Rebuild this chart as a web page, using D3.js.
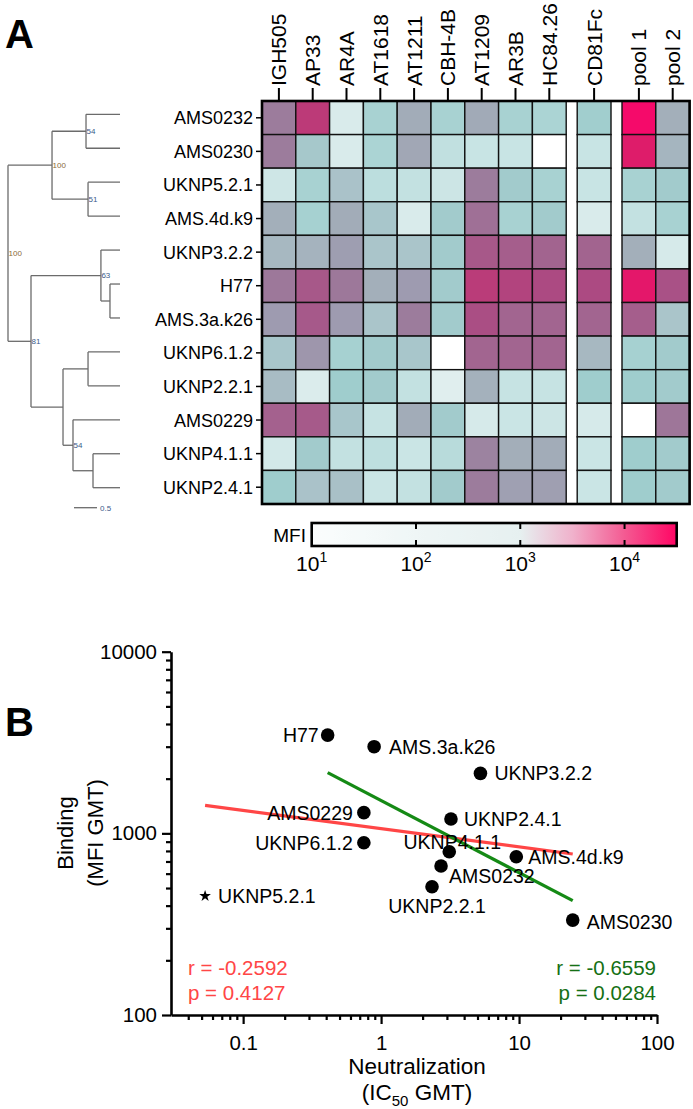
<!DOCTYPE html>
<html><head><meta charset="utf-8">
<script src="https://cdn.jsdelivr.net/npm/d3@7"></script>
<style>
body{margin:0;background:#fff;}
svg{display:block;font-family:"Liberation Sans",Arial,Helvetica,sans-serif;}
</style></head><body>
<svg id="c" width="693" height="1109"></svg>
<script>
// ---------- DATA ----------
const columns = ["IGH505","AP33","AR4A","AT1618","AT1211","CBH-4B","AT1209","AR3B","HC84.26","CD81Fc","pool 1","pool 2"];
const columnGroup = [0,0,0,0,0,0,0,0,0,1,2,2];
const strains = ["AMS0232","AMS0230","UKNP5.2.1","AMS.4d.k9","UKNP3.2.2","H77","AMS.3a.k26","UKNP6.1.2","UKNP2.2.1","AMS0229","UKNP4.1.1","UKNP2.4.1"];
// MFI per strain (rows) x antibody (columns); null = no value (white)
const mfiRows = [
  [1600, 8000,  40, 160, 560, 160,  600, 160, 150, 190, 25000, 520],
  [1600,  260,  40, 150, 650,  90,   75,  75, null, 75, 16000, 450],
  [  60,  160, 330, 100,  85,  65, 1600, 220, 160,  75,  160, 220],
  [ 520,  170, 560, 280,  40, 220, 2000, 160, 220,  40,   85, 160],
  [ 420,  470, 850, 300, 300, 220, 3500, 3000, 2600, 2600, 520, 45],
  [1700, 3500, 1700, 520, 900, 220, 7500, 6000, 5000, 5000, 18000, 4200],
  [ 900, 3400, 900, 300, 1600, 220, 4500, 2500, 2500, 2500, 3000, 300],
  [ 280, 1000, 170, 220, 280, null, 2500, 2500, 2500, 420, 170, 220],
  [ 380,   38, 200, 220,  85,  32,  500,  80,  80, 200, 200, 220],
  [2800, 3300, 280,  80, 560, 220,   45,  70,  65,  45, null, 1800],
  [  50,  220,  85,  95,  70, 110, 1400, 540, 560,  70, 200, 220],
  [ 200,  330, 350,  70,  85, 220, 1600, 800, 820,  70, 200, 220]
];
// Tree: [id, parent, distance from root, bootstrap label]
const treeNodes = [
  ["n0", "", 0, "100"],
  ["nA", "n0", 0.957, "100"],
  ["nA1", "nA", 1.696, "54"],
  ["nA2", "nA", 1.74, "51"],
  ["nB", "n0", 0.5, "81"],
  ["nB1", "nB", 2.02, "63"],
  ["nB1a", "nB1", 2.217, ""],
  ["nB2", "nB", 1.196, ""],
  ["nB2a", "nB2", 1.74, ""],
  ["nB2b", "nB2", 1.413, "54"],
  ["nB2c", "nB2b", 1.848, ""],
  ["AMS0232", "nA1", 2.435, ""],
  ["AMS0230", "nA1", 2.435, ""],
  ["UKNP5.2.1", "nA2", 2.435, ""],
  ["AMS.4d.k9", "nA2", 2.435, ""],
  ["UKNP3.2.2", "nB1", 2.435, ""],
  ["H77", "nB1a", 2.435, ""],
  ["AMS.3a.k26", "nB1a", 2.435, ""],
  ["UKNP6.1.2", "nB2a", 2.435, ""],
  ["UKNP2.2.1", "nB2a", 2.435, ""],
  ["AMS0229", "nB2b", 2.435, ""],
  ["UKNP4.1.1", "nB2c", 2.435, ""],
  ["UKNP2.4.1", "nB2c", 2.435, ""]
];
const treeScaleBar = 0.5;
const colorbarTicks = [10, 100, 1000, 10000];

// Panel B
const pointNames = ["H77","AMS.3a.k26","UKNP3.2.2","AMS0229","UKNP6.1.2","UKNP2.4.1","UKNP4.1.1","AMS0232","UKNP2.2.1","AMS.4d.k9","AMS0230"];
const neutGMT = [0.41, 0.89, 5.25, 0.75, 0.75, 3.21, 3.12, 2.72, 2.34, 9.55, 24.5];
const bindGMT = [3475, 3000, 2140, 1300, 887, 1199, 792, 661, 508, 743, 333];
const outlierNames = ["UKNP5.2.1"];
const outlierNeut = [0.053];
const outlierBind = [452];
const fitAllX = [0.053, 24.5];
const fitAllY = [1426, 770];
const fitSubX = [0.41, 24.5];
const fitSubY = [2157, 426];
const statsAll = ["r = -0.2592", "p = 0.4127"];
const statsSub = ["r = -0.6559", "p = 0.0284"];
const yMajor = [100, 1000, 10000];
const xMajor = [0.1, 1, 10, 100];

// ---------- LAYOUT ----------
const svg = d3.select("#c");
const FONT = "'Liberation Sans', Arial, Helvetica, sans-serif";

svg.append("text").attr("x", 5).attr("y", 48).attr("font-size", 40).attr("font-weight", "bold").text("A");
svg.append("text").attr("x", 5).attr("y", 736).attr("font-size", 40).attr("font-weight", "bold").text("B");

// ---- Heatmap ----
const HX0 = 262, HY0 = 101, HY1 = 504, CW = 33.8, GAP = 11;
const rowY = d3.scaleBand().domain(strains).range([HY0, HY1]);
const colBase = d3.scaleLinear().domain([0, columns.length]).range([HX0, HX0 + columns.length * CW]);
const colX = i => colBase(i) + columnGroup[i] * GAP;
const HX1 = colX(columns.length - 1) + CW;

const heatColor = d3.scaleLinear()
  .domain([1.5, 1.9, 2.3, 2.5, 2.75, 2.95, 3.2, 3.4, 3.7, 3.9, 4.2, 4.4])
  .range(["#e0eeee","#c6e3e3","#9fcdcd","#abc4ca","#a2acb8","#9e9cb0","#9c7c9c","#a26590","#ac4a82","#bc3a78","#de1c6a","#f50a6a"])
  .clamp(true);

const cells = [];
mfiRows.forEach((row, r) => row.forEach((v, c) => cells.push({r, c, v})));
const hm = svg.append("g");
hm.selectAll("rect.cell").data(cells).join("rect")
  .attr("x", d => colX(d.c))
  .attr("y", d => rowY(strains[d.r]))
  .attr("width", CW)
  .attr("height", rowY.bandwidth())
  .attr("fill", d => d.v == null ? "#ffffff" : heatColor(Math.log10(d.v)))
  .attr("stroke", "#111")
  .attr("stroke-width", 1.4);
hm.append("rect").attr("x", HX0).attr("y", HY0).attr("width", HX1 - HX0).attr("height", HY1 - HY0)
  .attr("fill", "none").attr("stroke", "#000").attr("stroke-width", 2.6);

// column ticks + labels
columns.forEach((c, i) => {
  const cx = colX(i) + CW / 2;
  hm.append("line").attr("x1", cx).attr("x2", cx).attr("y1", HY0 - 13).attr("y2", HY0)
    .attr("stroke", "#000").attr("stroke-width", 2);
  hm.append("text").attr("transform", `translate(${cx},${HY0 - 15}) rotate(-90)`)
    .attr("dy", "0.36em").attr("font-size", 21).attr("text-anchor", "start").text(c);
});
// row ticks + labels
strains.forEach(s => {
  const cy = rowY(s) + rowY.bandwidth() / 2;
  hm.append("line").attr("x1", HX0 - 6).attr("x2", HX0).attr("y1", cy).attr("y2", cy)
    .attr("stroke", "#000").attr("stroke-width", 1.5);
  hm.append("text").attr("x", HX0 - 9).attr("y", cy).attr("dy", "0.36em")
    .attr("text-anchor", "end").attr("font-size", 18).text(s);
});

// ---- Tree ----
const root = d3.stratify().id(d => d[0]).parentId(d => d[1] || null)(treeNodes);
const treeX = d3.scaleLinear().domain([0, 1]).range([8, 54]);
const leafY = d3.scalePoint().domain(strains).range([114.3, 487.7]);
root.eachAfter(n => {
  n.tx = treeX(n.data[2]);
  if (!n.children) n.ty = leafY(n.id);
  else n.ty = (n.children[0].ty + n.children[n.children.length - 1].ty) / 2;
});
const tg = svg.append("g").attr("stroke", "#6b6b6b").attr("stroke-width", 1.3).attr("fill", "none");
root.descendants().forEach(n => {
  if (n.children) {
    tg.append("line").attr("x1", n.tx).attr("x2", n.tx)
      .attr("y1", n.children[0].ty).attr("y2", n.children[n.children.length - 1].ty);
    n.children.forEach(ch => {
      tg.append("line").attr("x1", n.tx).attr("x2", ch.tx).attr("y1", ch.ty).attr("y2", ch.ty);
    });
  }
});
root.descendants().filter(n => n.data[3]).forEach(n => {
  svg.append("text").attr("x", n.tx + 0.5).attr("y", n.ty).attr("dy", "0.35em")
    .attr("font-size", 8)
    .attr("fill", n.data[3] === "100" ? "#8a6a3a" : "#3b5b8a")
    .text(n.data[3]);
});
// scale bar
tg.append("line").attr("x1", treeX(0) + 66).attr("x2", treeX(treeScaleBar) + 66).attr("y1", 507.7).attr("y2", 507.7);
svg.append("text").attr("x", treeX(treeScaleBar) + 69).attr("y", 507.7).attr("dy", "0.35em")
  .attr("font-size", 8).attr("fill", "#3b5b8a").text(String(treeScaleBar));

// ---- Colorbar ----
const CBX0 = 311.7, CBX1 = 676.7, CBY0 = 523, CBY1 = 546;
const cbScale = d3.scaleLog().domain([10, Math.pow(10, 4.5)]).range([CBX0, CBX1]);
const cbColor = d3.scaleLinear().domain([1, 2, 3, 3.5, 4, 4.5])
  .range(["#fbfdfd", "#eff6f6", "#e6f0f0", "#f0b2cc", "#f45a92", "#ff0564"]);
const grad = svg.append("defs").append("linearGradient").attr("id", "cbg")
  .attr("x1", "0%").attr("x2", "100%").attr("y1", "0%").attr("y2", "0%");
d3.range(1, 4.51, 0.1).forEach(t => {
  grad.append("stop").attr("offset", ((t - 1) / 3.5 * 100) + "%").attr("stop-color", cbColor(t));
});
svg.append("rect").attr("x", CBX0).attr("y", CBY0).attr("width", CBX1 - CBX0).attr("height", CBY1 - CBY0)
  .attr("fill", "url(#cbg)").attr("stroke", "#000").attr("stroke-width", 2.6);
colorbarTicks.forEach((v, i) => {
  const x = cbScale(v);
  if (i > 0) {
    svg.append("line").attr("x1", x).attr("x2", x).attr("y1", CBY0).attr("y2", CBY0 + 6).attr("stroke", "#000").attr("stroke-width", 2);
    svg.append("line").attr("x1", x).attr("x2", x).attr("y1", CBY1 - 6).attr("y2", CBY1).attr("stroke", "#000").attr("stroke-width", 2);
  }
  const t = svg.append("text").attr("x", x).attr("y", 571).attr("text-anchor", "middle").attr("font-size", 21);
  t.append("tspan").text("10");
  t.append("tspan").attr("font-size", 14).attr("dy", -9).text(String(Math.round(Math.log10(v))));
});
svg.append("text").attr("x", 306).attr("y", 535).attr("dy", "0.36em").attr("text-anchor", "end")
  .attr("font-size", 19).text("MFI");

// ---- Scatter (Panel B) ----
const xS = d3.scaleLog().domain([0.03, 100]).range([171, 657]);
const yS = d3.scaleLog().domain([100, 10000]).range([1015, 651.7]);
const isMajor = d => Math.abs(Math.log10(d) - Math.round(Math.log10(d))) < 1e-9;

const yTicks = [];
[100, 1000].forEach(b => d3.range(1, 10).forEach(k => yTicks.push(b * k)));
yTicks.push(10000);
const xTicks = [];
[0.01, 0.1, 1, 10].forEach(b => d3.range(1, 10).forEach(k => { const v = +(b * k).toPrecision(3); if (v >= 0.04) xTicks.push(v); }));
xTicks.push(100);

const yAx = svg.append("g").attr("transform", `translate(${xS.range()[0]},0)`)
  .call(d3.axisLeft(yS).tickValues(yTicks).tickSize(9).tickSizeOuter(0).tickPadding(5)
    .tickFormat(d => yMajor.includes(d) ? String(d) : ""));
yAx.selectAll(".tick line").attr("x2", d => isMajor(d) ? -9 : -5);
const xAx = svg.append("g").attr("transform", `translate(0,${yS.range()[0]})`)
  .call(d3.axisBottom(xS).tickValues(xTicks).tickSize(9).tickSizeOuter(0).tickPadding(11)
    .tickFormat(d => xMajor.some(m => Math.abs(m - d) < 1e-9) ? String(d) : ""));
xAx.selectAll(".tick line").attr("y2", d => isMajor(d) ? 9 : 5);
[yAx, xAx].forEach(a => {
  a.select(".domain").attr("stroke", "#000").attr("stroke-width", 2.6);
  a.selectAll(".tick line").attr("stroke", "#000").attr("stroke-width", 2.2);
  a.selectAll(".tick text").attr("font-size", 20.5).attr("font-family", FONT).attr("fill", "#000");
});

// axis titles
svg.append("text").attr("transform", "translate(65,833) rotate(-90)").attr("dy", "0.36em")
  .attr("text-anchor", "middle").attr("font-size", 22).text("Binding");
svg.append("text").attr("transform", "translate(95,833) rotate(-90)").attr("dy", "0.36em")
  .attr("text-anchor", "middle").attr("font-size", 22).text("(MFI GMT)");
svg.append("text").attr("x", 417).attr("y", 1074).attr("text-anchor", "middle").attr("font-size", 22.5).text("Neutralization");
const xt2 = svg.append("text").attr("x", 417).attr("y", 1100).attr("text-anchor", "middle").attr("font-size", 22.5);
xt2.append("tspan").text("(IC");
xt2.append("tspan").attr("font-size", 15).attr("dy", 6).text("50");
xt2.append("tspan").attr("dy", -6).text(" GMT)");

// fit lines
const line = d3.line().x(d => xS(d[0])).y(d => yS(d[1]));
svg.append("path").datum(fitAllX.map((x, i) => [x, fitAllY[i]])).attr("d", line)
  .attr("stroke", "#ff4646").attr("stroke-width", 3.2).attr("fill", "none");
svg.append("path").datum(fitSubX.map((x, i) => [x, fitSubY[i]])).attr("d", line)
  .attr("stroke", "#158a15").attr("stroke-width", 3.2).attr("fill", "none");

// points
const pts = pointNames.map((n, i) => ({n, x: neutGMT[i], y: bindGMT[i]}));
svg.append("g").selectAll("circle").data(pts).join("circle")
  .attr("cx", d => xS(d.x)).attr("cy", d => yS(d.y)).attr("r", 6.8).attr("fill", "#000");
const outl = outlierNames.map((n, i) => ({n, x: outlierNeut[i], y: outlierBind[i]}));
svg.append("g").selectAll("path").data(outl).join("path")
  .attr("transform", d => `translate(${xS(d.x)},${yS(d.y)})`)
  .attr("d", d3.symbol().type(d3.symbolStar).size(42)).attr("fill", "#000");

// label placement (layout only)
const labelPlace = {
  "H77": ["end", -9, 0], "AMS.3a.k26": ["start", 15, 0], "UKNP3.2.2": ["start", 14, 0],
  "AMS0229": ["end", -11, 0], "UKNP6.1.2": ["end", -11, 0], "UKNP2.4.1": ["start", 13, 0],
  "UKNP4.1.1": ["middle", 3, -10], "AMS0232": ["start", 8, 10], "UKNP2.2.1": ["middle", 5, 19],
  "AMS.4d.k9": ["start", 12, 0], "AMS0230": ["start", 14, 2], "UKNP5.2.1": ["start", 13, 0]
};
svg.append("g").selectAll("text").data(pts.concat(outl)).join("text")
  .attr("x", d => xS(d.x) + labelPlace[d.n][1])
  .attr("y", d => yS(d.y) + labelPlace[d.n][2])
  .attr("dy", "0.36em").attr("text-anchor", d => labelPlace[d.n][0])
  .attr("font-size", 19.5).text(d => d.n);

// stats
statsAll.forEach((s, i) => svg.append("text").attr("x", 188).attr("y", 975 + i * 25)
  .attr("font-size", 20.5).attr("fill", "#ff4646").text(s));
statsSub.forEach((s, i) => svg.append("text").attr("x", 656).attr("y", 975 + i * 25)
  .attr("text-anchor", "end").attr("font-size", 20.5).attr("fill", "#157015").text(s));
</script>
</body></html>
